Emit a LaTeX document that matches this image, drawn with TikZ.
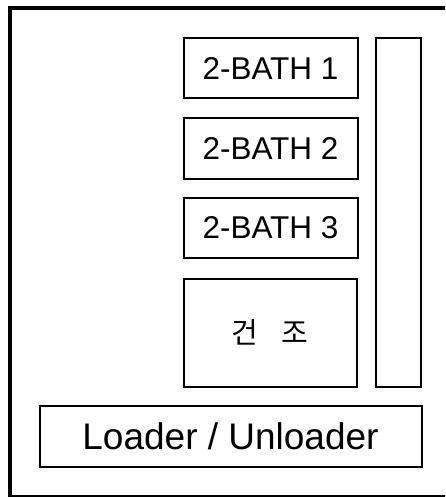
\documentclass[tikz,border=0pt]{standalone}
\usepackage{fontspec}
\setmainfont{Liberation Sans}
\newfontfamily\kofont{Noto Sans CJK KR}
\tikzset{
  unit/.style={
    draw,
    rectangle,
    line width=2pt,
    inner sep=0pt,
    outer sep=0pt,
    align=center
  },
  bath/.style={unit, minimum width=174pt, minimum height=60pt, font=\fontsize{31.5}{33}\selectfont}
}

\begin{document}
\begin{tikzpicture}[x=1pt,y=-1pt]
  \useasboundingbox (0,0) rectangle (445,497);

  % outer frame (runs past the right and bottom edge)
  \begin{scope}
    \clip (0,0) rectangle (445,497);
    \draw[line width=4pt] (10,8) rectangle (449,497);
  \end{scope}

  % process baths
  \node[bath] (bathone)   at (270.5,68.5)  {2-BATH 1};
  \node[bath] (bathtwo)   at (270.5,148.5) {2-BATH 2};
  \node[bath] (baththree) at (270.5,227.5) {2-BATH 3};

  % dryer and transfer rail
  \node[unit, minimum width=173pt, minimum height=108pt,
        font=\kofont\fontsize{29}{31}\selectfont] (dryer) at (270,332.5) {건\hspace{.8em}조};
  \node[unit, minimum width=45pt, minimum height=348pt] (rail) at (398,212.5) {};

  % loading station
  \node[unit, minimum width=382pt, minimum height=61pt,
        font=\fontsize{37}{39}\selectfont] (loader) at (230.5,436) {Loader / Unloader};
\end{tikzpicture}
\end{document}
